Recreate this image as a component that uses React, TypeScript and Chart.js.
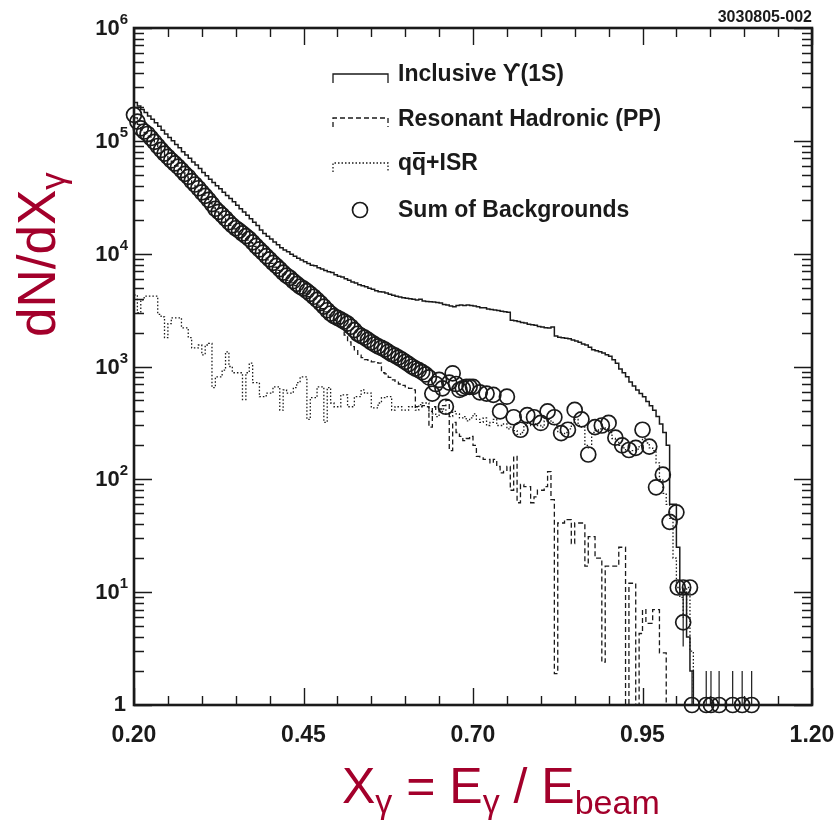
import React, { useEffect, useRef } from "react";
import { Chart, registerables } from "chart.js";

Chart.register(...registerables);

// Histograms share one binning in X_gamma: bin i starts at BIN_START + i * BIN_WIDTH
const BIN_START = 0.2;
const BIN_WIDTH = 0.005;
// empty bins sit below the y floor of 1
const EMPTY_LEVEL = 0.2;

// Inclusive Upsilon(1S) photon spectrum
const INCLUSIVE = [
  219000, 204000, 190000, 178000, 166000, 155000, 145000, 135000, 124000, 115000,
  107000, 100000, 93000, 87000, 80000, 75000, 70000, 65000, 61000, 57000,
  52500, 49000, 45700, 42700, 40000, 37600, 35000, 32700, 30900, 28800,
  26900, 25000, 23400, 21900, 20400, 19000, 17800, 16200, 15100, 14300,
  13500, 12700, 12000, 11300, 10800, 10400, 9900, 9500, 9100, 8800,
  8500, 8200, 7900, 7800, 7500, 7300, 7100, 6900, 6800, 6500,
  6300, 6200, 6000, 5800, 5600, 5500, 5300, 5200, 5100, 4950,
  4850, 4700, 4600, 4570, 4470, 4370, 4270, 4200, 4140, 4070,
  4030, 3980, 3940, 3890, 3950, 3800, 3760, 3740, 3720, 3690,
  3660, 3550, 3500, 3430, 3390, 3470, 3500, 3470, 3500, 3470,
  3430, 3390, 3310, 3310, 3240, 3200, 3160, 3130, 3090, 3050,
  3020, 2570, 2540, 2510, 2450, 2430, 2370, 2340, 2320, 2260,
  2240, 2210, 2190, 2240, 1860, 1820, 1800, 1780, 1760, 1720,
  1680, 1640, 1580, 1550, 1480, 1410, 1380, 1350, 1320, 1270,
  1230, 1150, 1070, 950, 880, 810, 730, 670, 620, 575,
  540, 490, 450, 410, 360, 310, 260, 200, 60, 60,
  25, 10, 10, 4, 2, 0,
];

// Resonant hadronic (PP) background
const RESONANT = [
  160000, 140000, 125000, 117000, 110000, 102000, 94000, 87000, 80000, 74000,
  69000, 64000, 60000, 56000, 52000, 48000, 45000, 42000, 39000, 36000,
  33000, 30500, 28000, 25500, 23500, 22000, 20500, 19000, 17800, 16600,
  15600, 14800, 14000, 13200, 12500, 11600, 10800, 10100, 9400, 8800,
  8200, 7600, 7100, 6600, 6200, 5800, 5500, 5200, 4900, 4600,
  4400, 4150, 3950, 3700, 3500, 3250, 3050, 2850, 2700, 2550,
  2400, 2200, 1900, 1650, 1500, 1380, 1260, 1200, 1150, 1120,
  1100, 1080, 1070, 880, 860, 800, 760, 740, 700, 680,
  660, 640, 620, 440, 440, 450, 440, 290, 440, 410,
  420, 450, 500, 180, 320, 260, 240, 220, 230, 240,
  200, 160, 155, 150, 150, 140, 150, 130, 114, 120,
  130, 80, 160, 62, 90, 86, 86, 62, 70, 80,
  80, 86, 117, 66, 1.9, 41, 41, 44, 44, 27,
  41, 41, 41, 17, 31, 31, 20, 20, 2.4, 17,
  17, 17, 17, 25, 25, 0, 12, 12, 0, 4.3,
  7, 5.3, 5.3, 7, 7, 2.9, 2.9, 0, 0, 0,
  0, 0, 0, 0, 0, 0,
];

// q-qbar continuum + ISR background
const QQ_ISR = [
  4300, 3000, 3900, 4200, 4200, 4200, 4200, 2900, 2750, 1800,
  2400, 2700, 2700, 2700, 2200, 2200, 1800, 1460, 1460, 1550,
  1270, 1550, 1600, 650, 810, 810, 930, 1350, 1000, 880,
  880, 880, 510, 880, 1070, 720, 720, 540, 540, 580,
  580, 660, 660, 410, 620, 580, 580, 650, 720, 810,
  810, 340, 530, 530, 660, 660, 320, 650, 475, 440,
  440, 560, 560, 440, 440, 540, 540, 620, 580, 580,
  430, 430, 475, 530, 540, 540, 410, 440, 440, 410,
  410, 440, 440, 410, 460, 475, 475, 400, 380, 360,
  400, 420, 380, 360, 400, 380, 350, 360, 330, 350,
  380, 340, 320, 350, 300, 320, 340, 300, 300, 310,
  280, 290, 270, 250, 260, 300, 320, 300, 310, 300,
  290, 330, 340, 320, 300, 260, 250, 260, 280, 320,
  340, 300, 290, 200, 190, 260, 270, 280, 290, 280,
  260, 230, 220, 200, 190, 180, 175, 180, 185, 200,
  230, 210, 190, 180, 140, 100, 75, 60, 45, 20,
  11, 9, 6, 11, 3, 0,
];

// Sum of backgrounds (points)
const SUM_X = [
  0.200, 0.205, 0.210, 0.215, 0.220, 0.225, 0.230, 0.235, 0.240, 0.245,
  0.250, 0.255, 0.260, 0.265, 0.270, 0.275, 0.280, 0.285, 0.290, 0.295,
  0.300, 0.305, 0.310, 0.315, 0.320, 0.325, 0.330, 0.335, 0.340, 0.345,
  0.350, 0.355, 0.360, 0.365, 0.370, 0.375, 0.380, 0.385, 0.390, 0.395,
  0.400, 0.405, 0.410, 0.415, 0.420, 0.425, 0.430, 0.435, 0.440, 0.445,
  0.450, 0.455, 0.460, 0.465, 0.470, 0.475, 0.480, 0.485, 0.490, 0.495,
  0.500, 0.505, 0.510, 0.515, 0.520, 0.525, 0.530, 0.535, 0.540, 0.545,
  0.550, 0.555, 0.560, 0.565, 0.570, 0.575, 0.580, 0.585, 0.590, 0.595,
  0.600, 0.605, 0.610, 0.615, 0.620, 0.625, 0.630, 0.635, 0.640, 0.645,
  0.650, 0.655, 0.660, 0.665, 0.670, 0.675, 0.680, 0.685, 0.690, 0.695,
  0.70, 0.71, 0.72, 0.73, 0.74, 0.75, 0.76, 0.77, 0.78, 0.79,
  0.80, 0.81, 0.82, 0.83, 0.84, 0.85, 0.86, 0.87, 0.88, 0.89,
  0.90, 0.91, 0.92, 0.93, 0.94, 0.95, 0.96, 0.97, 0.98, 0.99,
  1.00, 1.002, 1.010, 1.020, 1.010,
];
const SUM_Y = [
  170000, 148000, 129000, 121000, 115000, 106000, 98000, 90000, 83000, 77000,
  72000, 67000, 63000, 59000, 55000, 51000, 48000, 44000, 41000, 38000,
  35000, 32500, 30000, 27500, 25000, 23500, 22000, 20500, 19000, 17800,
  16800, 16000, 15100, 14300, 13500, 12600, 11700, 10900, 10200, 9500,
  8900, 8300, 7800, 7300, 6800, 6400, 6100, 5700, 5400, 5100,
  4900, 4650, 4400, 4150, 3900, 3650, 3400, 3150, 2950, 2800,
  2700, 2600, 2500, 2400, 2250, 2100, 1950, 1870, 1800, 1720,
  1640, 1570, 1510, 1460, 1410, 1350, 1290, 1250, 1200, 1150,
  1100, 1050, 1000, 960, 930, 890, 850, 800, 575, 700,
  760, 640, 440, 720, 870, 700, 620, 640, 660, 660,
  660, 590, 575, 560, 400, 540, 355, 275, 370, 355,
  316, 400, 355, 257, 275, 412, 340, 166, 290, 300,
  316, 234, 200, 182, 190, 275, 195, 85, 110, 42,
  51, 11, 11, 11, 5.4,
];

// Empty background bins, drawn on the floor of the plot
const EMPTY_X = [1.023, 1.044, 1.051, 1.063, 1.083, 1.097, 1.111];
const EMPTY_Y = [1, 1, 1, 1, 1, 1, 1];

// Error bars that reach outside their markers
const ERR_X = [1.010, 1.023, 1.044, 1.051, 1.063, 1.083, 1.097, 1.111];
const ERR_LO = [3.3, 1, 1, 1, 1, 1, 1, 1];
const ERR_HI = [11, 2, 2, 2, 2, 2, 2, 2];

const X_MIN = 0.2;
const X_MAX = 1.2;
const X_MAJOR = [0.2, 0.45, 0.7, 0.95, 1.2];
const X_LABELS = ["0.20", "0.45", "0.70", "0.95", "1.20"];
const X_MINOR_STEP = 0.05;
const Y_EXPONENTS = [0, 1, 2, 3, 4, 5, 6];

const INK = "#1a1a1a";
const TITLE_RED = "#a3002b";
const FONT = '"Liberation Sans", "DejaVu Sans", Arial, sans-serif';

function histogram(values: number[]) {
  const pts = values.map((v, i) => ({
    x: BIN_START + i * BIN_WIDTH,
    y: v > 0 ? v : EMPTY_LEVEL,
  }));
  pts.push({ x: BIN_START + values.length * BIN_WIDTH, y: EMPTY_LEVEL });
  return pts;
}

type Piece = { t: string; size: number; dy: number };

function drawPieces(ctx: CanvasRenderingContext2D, pieces: Piece[], x: number, y: number) {
  let cx = x;
  for (const p of pieces) {
    ctx.font = `${p.size}px ${FONT}`;
    ctx.fillText(p.t, cx, y + p.dy);
    cx += ctx.measureText(p.t).width;
  }
}

const decorations = {
  id: "decorations",
  afterDatasetsDraw(chart: any) {
    const { ctx, chartArea: a, scales } = chart;
    const xs = scales.x;
    const ys = scales.y;
    ctx.save();
    ctx.strokeStyle = INK;
    ctx.fillStyle = INK;

    // error bars
    ctx.lineWidth = 1.2;
    ERR_X.forEach((x, i) => {
      const px = xs.getPixelForValue(x);
      ctx.beginPath();
      ctx.moveTo(px, ys.getPixelForValue(ERR_LO[i]));
      ctx.lineTo(px, ys.getPixelForValue(ERR_HI[i]));
      ctx.stroke();
    });

    // frame
    ctx.lineWidth = 2.6;
    ctx.strokeRect(a.left, a.top, a.right - a.left, a.bottom - a.top);

    // x ticks on bottom and top
    ctx.lineWidth = 1.4;
    const nX = Math.round((X_MAX - X_MIN) / X_MINOR_STEP);
    for (let k = 0; k <= nX; k++) {
      const v = X_MIN + k * X_MINOR_STEP;
      const px = Math.round(xs.getPixelForValue(v)) + 0.5;
      const len = k % 5 === 0 ? 17 : 9;
      ctx.beginPath();
      ctx.moveTo(px, a.bottom);
      ctx.lineTo(px, a.bottom - len);
      ctx.moveTo(px, a.top);
      ctx.lineTo(px, a.top + len);
      ctx.stroke();
    }
    // y ticks on left and right
    for (let n = 0; n <= 6; n++) {
      for (let k = 1; k <= 9; k++) {
        if (n === 6 && k > 1) break;
        const v = k * Math.pow(10, n);
        const py = Math.round(ys.getPixelForValue(v)) + 0.5;
        const len = k === 1 ? 18 : 10;
        ctx.beginPath();
        ctx.moveTo(a.left, py);
        ctx.lineTo(a.left + len, py);
        ctx.moveTo(a.right, py);
        ctx.lineTo(a.right - len, py);
        ctx.stroke();
      }
    }

    // x tick labels
    ctx.font = `bold 23px ${FONT}`;
    ctx.textAlign = "center";
    ctx.textBaseline = "middle";
    X_MAJOR.forEach((v, i) => {
      ctx.fillText(X_LABELS[i], xs.getPixelForValue(v), a.bottom + 31);
    });

    // y tick labels: 1, 10^1 ... 10^6
    ctx.textAlign = "right";
    Y_EXPONENTS.forEach((e) => {
      const py = ys.getPixelForValue(Math.pow(10, e));
      const right = a.left - 6;
      if (e === 0) {
        ctx.font = `bold 22px ${FONT}`;
        ctx.textBaseline = "middle";
        ctx.fillText("1", right - 2, py);
        return;
      }
      ctx.font = `bold 15px ${FONT}`;
      ctx.textBaseline = "middle";
      const sup = String(e);
      ctx.fillText(sup, right, py - 8);
      const w = ctx.measureText(sup).width;
      ctx.font = `bold 22px ${FONT}`;
      ctx.fillText("10", right - w, py + 1);
    });

    // drawing number
    ctx.font = `bold 16px ${FONT}`;
    ctx.textAlign = "right";
    ctx.textBaseline = "alphabetic";
    ctx.fillText("3030805-002", a.right, a.top - 6);

    // legend
    const sx0 = 333;
    const sx1 = 388;
    const textX = 398;
    const rows = [74, 118, 163, 210];
    const dashes = [[], [5, 3], [1.5, 2]];
    ctx.lineWidth = 1.3;
    for (let r = 0; r < 3; r++) {
      const y = rows[r];
      ctx.setLineDash(dashes[r]);
      ctx.beginPath();
      ctx.moveTo(sx0, y + 9);
      ctx.lineTo(sx0, y);
      ctx.lineTo(sx1, y);
      ctx.lineTo(sx1, y + 9);
      ctx.stroke();
    }
    ctx.setLineDash([]);
    ctx.lineWidth = 1.7;
    ctx.beginPath();
    ctx.arc(360, rows[3], 7.5, 0, Math.PI * 2);
    ctx.stroke();

    ctx.font = `bold 23px ${FONT}`;
    ctx.textAlign = "left";
    ctx.textBaseline = "middle";
    ctx.fillText("Inclusive \u03D2(1S)", textX, rows[0] + 1);
    ctx.fillText("Resonant Hadronic (PP)", textX, rows[1] + 2);
    // q q-bar + ISR
    const qy = rows[2] + 1;
    ctx.fillText("q", textX, qy);
    const wq = ctx.measureText("q").width;
    ctx.fillText("q", textX + wq, qy);
    ctx.lineWidth = 2;
    ctx.beginPath();
    ctx.moveTo(textX + wq + 1, qy - 11);
    ctx.lineTo(textX + 2 * wq - 1, qy - 11);
    ctx.stroke();
    ctx.fillText("+ISR", textX + 2 * wq, qy);
    ctx.fillText("Sum of Backgrounds", textX, rows[3] + 1);

    // axis titles
    ctx.fillStyle = TITLE_RED;
    ctx.textAlign = "left";
    ctx.textBaseline = "alphabetic";
    drawPieces(
      ctx,
      [
        { t: "X", size: 50, dy: 0 },
        { t: "\u03B3", size: 34, dy: 10 },
        { t: " = ", size: 50, dy: 0 },
        { t: "E", size: 50, dy: 0 },
        { t: "\u03B3", size: 34, dy: 10 },
        { t: " / ", size: 50, dy: 0 },
        { t: "E", size: 50, dy: 0 },
        { t: "beam", size: 34, dy: 11 },
      ],
      342,
      803
    );
    ctx.save();
    ctx.translate(55, 337);
    ctx.rotate(-Math.PI / 2);
    drawPieces(
      ctx,
      [
        { t: "dN/dX", size: 53, dy: 0 },
        { t: "\u03B3", size: 35, dy: 10 },
      ],
      0,
      0
    );
    ctx.restore();

    ctx.restore();
  },
};

export default function App() {
  const ref = useRef<HTMLCanvasElement | null>(null);

  useEffect(() => {
    if (!ref.current) return;
    const markerStyle = {
      showLine: false,
      pointStyle: "circle",
      pointRadius: 7.5,
      pointBorderWidth: 1.7,
      pointBorderColor: INK,
      pointBackgroundColor: "rgba(0,0,0,0)",
      clip: false,
    };
    const chart = new Chart(ref.current, {
      type: "line",
      data: {
        datasets: [
          {
            label: "Sum of Backgrounds",
            data: SUM_X.map((x, i) => ({ x, y: SUM_Y[i] })),
            ...markerStyle,
          } as any,
          {
            label: "Empty bins",
            data: EMPTY_X.map((x, i) => ({ x, y: EMPTY_Y[i] })),
            ...markerStyle,
          } as any,
          {
            label: "Inclusive \u03D2(1S)",
            data: histogram(INCLUSIVE),
            stepped: "before",
            borderColor: INK,
            borderWidth: 1.5,
            pointRadius: 0,
            fill: false,
          },
          {
            label: "Resonant Hadronic (PP)",
            data: histogram(RESONANT),
            stepped: "before",
            borderColor: INK,
            borderWidth: 1.3,
            borderDash: [5, 3],
            pointRadius: 0,
            fill: false,
          },
          {
            label: "qq+ISR",
            data: histogram(QQ_ISR),
            stepped: "before",
            borderColor: INK,
            borderWidth: 1.3,
            borderDash: [1.5, 2],
            pointRadius: 0,
            fill: false,
          },
        ],
      },
      options: {
        animation: false,
        responsive: false,
        maintainAspectRatio: false,
        events: [],
        layout: { padding: { left: 134, right: 25, top: 28, bottom: 115 } },
        scales: {
          x: { type: "linear", min: X_MIN, max: X_MAX, display: false },
          y: { type: "logarithmic", min: 1, max: 1e6, display: false },
        },
        plugins: {
          legend: { display: false },
          tooltip: { enabled: false },
        },
      },
      plugins: [decorations],
    });
    return () => chart.destroy();
  }, []);

  return (
    <div
      style={{
        position: "absolute",
        left: 0,
        top: 0,
        width: 837,
        height: 820,
        background: "#ffffff",
      }}
    >
      <canvas ref={ref} width={837} height={820} style={{ display: "block" }} />
    </div>
  );
}
